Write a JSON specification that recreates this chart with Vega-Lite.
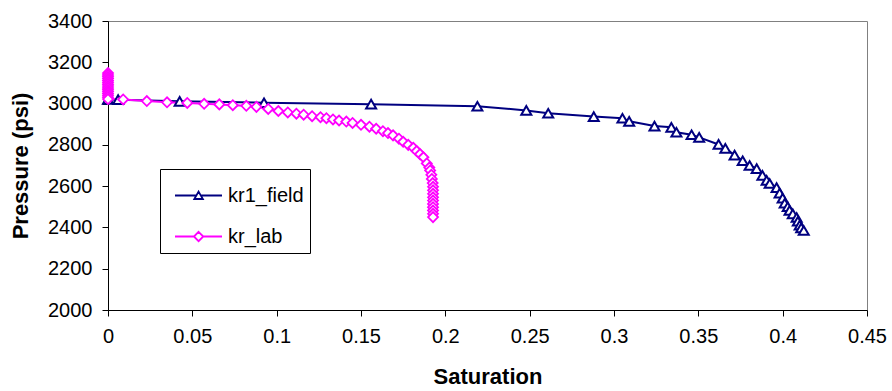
{
  "$schema": "https://vega.github.io/schema/vega-lite/v6.json",
  "width": 759,
  "height": 289,
  "autosize": {"type": "none"},
  "padding": {"left": 108, "top": 21, "right": 25, "bottom": 81},
  "background": "white",
  "config": {
    "font": "Liberation Sans",
    "view": {"stroke": "#808080", "strokeWidth": 1},
    "axis": {
      "grid": false,
      "domainColor": "black",
      "tickColor": "black",
      "labelColor": "black",
      "titleColor": "black",
      "labelFont": "Liberation Sans",
      "titleFont": "Liberation Sans",
      "labelFontSize": 20,
      "titleFontSize": 22,
      "titleFontWeight": "bold",
      "tickSize": 6,
      "labelFlush": false,
      "labelOverlap": false
    }
  },
  "data": {
    "values": [
      {"series": "kr1_field", "s": 0, "p": 3020, "ord": 1},
      {"series": "kr1_field", "s": 0.006, "p": 3019, "ord": 2},
      {"series": "kr1_field", "s": 0.0425, "p": 3011, "ord": 3},
      {"series": "kr1_field", "s": 0.0925, "p": 3004, "ord": 4},
      {"series": "kr1_field", "s": 0.156, "p": 2997, "ord": 5},
      {"series": "kr1_field", "s": 0.219, "p": 2987, "ord": 6},
      {"series": "kr1_field", "s": 0.248, "p": 2967, "ord": 7},
      {"series": "kr1_field", "s": 0.261, "p": 2953, "ord": 8},
      {"series": "kr1_field", "s": 0.288, "p": 2937, "ord": 9},
      {"series": "kr1_field", "s": 0.305, "p": 2929, "ord": 10},
      {"series": "kr1_field", "s": 0.309, "p": 2914, "ord": 11},
      {"series": "kr1_field", "s": 0.324, "p": 2891, "ord": 12},
      {"series": "kr1_field", "s": 0.334, "p": 2885, "ord": 13},
      {"series": "kr1_field", "s": 0.337, "p": 2861, "ord": 14},
      {"series": "kr1_field", "s": 0.346, "p": 2849, "ord": 15},
      {"series": "kr1_field", "s": 0.3505, "p": 2836, "ord": 16},
      {"series": "kr1_field", "s": 0.362, "p": 2802, "ord": 17},
      {"series": "kr1_field", "s": 0.366, "p": 2783, "ord": 18},
      {"series": "kr1_field", "s": 0.3715, "p": 2750, "ord": 19},
      {"series": "kr1_field", "s": 0.3763, "p": 2723, "ord": 20},
      {"series": "kr1_field", "s": 0.3804, "p": 2700, "ord": 21},
      {"series": "kr1_field", "s": 0.3846, "p": 2685, "ord": 22},
      {"series": "kr1_field", "s": 0.388, "p": 2652, "ord": 23},
      {"series": "kr1_field", "s": 0.3905, "p": 2628, "ord": 24},
      {"series": "kr1_field", "s": 0.3923, "p": 2613, "ord": 25},
      {"series": "kr1_field", "s": 0.3964, "p": 2593, "ord": 26},
      {"series": "kr1_field", "s": 0.3982, "p": 2566, "ord": 27},
      {"series": "kr1_field", "s": 0.4, "p": 2542, "ord": 28},
      {"series": "kr1_field", "s": 0.4012, "p": 2517, "ord": 29},
      {"series": "kr1_field", "s": 0.403, "p": 2500, "ord": 30},
      {"series": "kr1_field", "s": 0.4041, "p": 2483, "ord": 31},
      {"series": "kr1_field", "s": 0.406, "p": 2466, "ord": 32},
      {"series": "kr1_field", "s": 0.4083, "p": 2448, "ord": 33},
      {"series": "kr1_field", "s": 0.409, "p": 2430, "ord": 34},
      {"series": "kr1_field", "s": 0.4101, "p": 2411, "ord": 35},
      {"series": "kr1_field", "s": 0.411, "p": 2398, "ord": 36},
      {"series": "kr1_field", "s": 0.4125, "p": 2385, "ord": 37},
      {"series": "kr_lab", "s": 0, "p": 3148, "ord": 1},
      {"series": "kr_lab", "s": 0, "p": 3139, "ord": 2},
      {"series": "kr_lab", "s": 0, "p": 3130, "ord": 3},
      {"series": "kr_lab", "s": 0, "p": 3121, "ord": 4},
      {"series": "kr_lab", "s": 0, "p": 3112, "ord": 5},
      {"series": "kr_lab", "s": 0, "p": 3103, "ord": 6},
      {"series": "kr_lab", "s": 0, "p": 3094, "ord": 7},
      {"series": "kr_lab", "s": 0, "p": 3085, "ord": 8},
      {"series": "kr_lab", "s": 0, "p": 3076, "ord": 9},
      {"series": "kr_lab", "s": 0, "p": 3067, "ord": 10},
      {"series": "kr_lab", "s": 0, "p": 3058, "ord": 11},
      {"series": "kr_lab", "s": 0, "p": 3049, "ord": 12},
      {"series": "kr_lab", "s": 0, "p": 3040, "ord": 13},
      {"series": "kr_lab", "s": 0, "p": 3031, "ord": 14},
      {"series": "kr_lab", "s": 0, "p": 3022, "ord": 15},
      {"series": "kr_lab", "s": 0.009, "p": 3020, "ord": 16},
      {"series": "kr_lab", "s": 0.023, "p": 3012, "ord": 17},
      {"series": "kr_lab", "s": 0.035, "p": 3006, "ord": 18},
      {"series": "kr_lab", "s": 0.047, "p": 3003, "ord": 19},
      {"series": "kr_lab", "s": 0.057, "p": 2999, "ord": 20},
      {"series": "kr_lab", "s": 0.066, "p": 2996, "ord": 21},
      {"series": "kr_lab", "s": 0.074, "p": 2992, "ord": 22},
      {"series": "kr_lab", "s": 0.082, "p": 2989, "ord": 23},
      {"series": "kr_lab", "s": 0.088, "p": 2984, "ord": 24},
      {"series": "kr_lab", "s": 0.095, "p": 2974, "ord": 25},
      {"series": "kr_lab", "s": 0.101, "p": 2964, "ord": 26},
      {"series": "kr_lab", "s": 0.1066, "p": 2957, "ord": 27},
      {"series": "kr_lab", "s": 0.1117, "p": 2951, "ord": 28},
      {"series": "kr_lab", "s": 0.116, "p": 2946, "ord": 29},
      {"series": "kr_lab", "s": 0.121, "p": 2939, "ord": 30},
      {"series": "kr_lab", "s": 0.126, "p": 2934, "ord": 31},
      {"series": "kr_lab", "s": 0.1295, "p": 2929, "ord": 32},
      {"series": "kr_lab", "s": 0.1334, "p": 2923, "ord": 33},
      {"series": "kr_lab", "s": 0.137, "p": 2918, "ord": 34},
      {"series": "kr_lab", "s": 0.1413, "p": 2913, "ord": 35},
      {"series": "kr_lab", "s": 0.145, "p": 2906, "ord": 36},
      {"series": "kr_lab", "s": 0.15, "p": 2897, "ord": 37},
      {"series": "kr_lab", "s": 0.155, "p": 2888, "ord": 38},
      {"series": "kr_lab", "s": 0.159, "p": 2878, "ord": 39},
      {"series": "kr_lab", "s": 0.163, "p": 2866, "ord": 40},
      {"series": "kr_lab", "s": 0.166, "p": 2857, "ord": 41},
      {"series": "kr_lab", "s": 0.169, "p": 2846, "ord": 42},
      {"series": "kr_lab", "s": 0.1725, "p": 2830, "ord": 43},
      {"series": "kr_lab", "s": 0.175, "p": 2815, "ord": 44},
      {"series": "kr_lab", "s": 0.178, "p": 2800, "ord": 45},
      {"series": "kr_lab", "s": 0.181, "p": 2786, "ord": 46},
      {"series": "kr_lab", "s": 0.183, "p": 2770, "ord": 47},
      {"series": "kr_lab", "s": 0.185, "p": 2755, "ord": 48},
      {"series": "kr_lab", "s": 0.187, "p": 2740, "ord": 49},
      {"series": "kr_lab", "s": 0.189, "p": 2710, "ord": 50},
      {"series": "kr_lab", "s": 0.1905, "p": 2690, "ord": 51},
      {"series": "kr_lab", "s": 0.191, "p": 2676, "ord": 52},
      {"series": "kr_lab", "s": 0.1917, "p": 2655, "ord": 53},
      {"series": "kr_lab", "s": 0.192, "p": 2635, "ord": 54},
      {"series": "kr_lab", "s": 0.1925, "p": 2615, "ord": 55},
      {"series": "kr_lab", "s": 0.1927, "p": 2597, "ord": 56},
      {"series": "kr_lab", "s": 0.1927, "p": 2580, "ord": 57},
      {"series": "kr_lab", "s": 0.1927, "p": 2563, "ord": 58},
      {"series": "kr_lab", "s": 0.1927, "p": 2546, "ord": 59},
      {"series": "kr_lab", "s": 0.1927, "p": 2530, "ord": 60},
      {"series": "kr_lab", "s": 0.1927, "p": 2514, "ord": 61},
      {"series": "kr_lab", "s": 0.1927, "p": 2498, "ord": 62},
      {"series": "kr_lab", "s": 0.1927, "p": 2482, "ord": 63},
      {"series": "kr_lab", "s": 0.1927, "p": 2466, "ord": 64},
      {"series": "kr_lab", "s": 0.1927, "p": 2450, "ord": 65}
    ]
  },
  "encoding": {
    "x": {
      "field": "s", "type": "quantitative", "title": "Saturation",
      "scale": {"domain": [0, 0.45], "nice": false},
      "axis": {"values": [0, 0.05, 0.1, 0.15, 0.2, 0.25, 0.3, 0.35, 0.4, 0.45], "format": "~g", "labelPadding": 10, "titlePadding": 20}
    },
    "y": {
      "field": "p", "type": "quantitative", "title": "Pressure (psi)",
      "scale": {"domain": [2000, 3400], "nice": false, "zero": false},
      "axis": {"values": [2000, 2200, 2400, 2600, 2800, 3000, 3200, 3400], "format": "d", "labelPadding": 10, "titlePadding": 15}
    }
  },
  "layer": [
    {
      "mark": {"type": "line", "strokeWidth": 2},
      "encoding": {
        "order": {"field": "ord", "type": "quantitative"},
        "color": {
          "field": "series", "type": "nominal",
          "scale": {"domain": ["kr1_field", "kr_lab"], "range": ["#000080", "#FF00FF"]},
          "legend": {
            "title": null,
            "orient": "none", "legendX": 52, "legendY": 148,
            "strokeColor": "black", "fillColor": "white", "padding": 6,
            "symbolSize": 1521, "symbolStrokeWidth": 1.8, "symbolFillColor": "white",
            "labelFontSize": 20, "labelFont": "Liberation Sans", "labelColor": "black",
            "labelOffset": 21, "rowPadding": 10,
            "encode": {
              "symbols": {
                "update": {
                  "shape": {"signal": "datum.value === 'kr1_field' ? 'M-0.59,0H0.52M0.72,0H1.82M0.62,-0.2L0.84,0.18L0.4,0.18Z' : 'M-0.59,0H0.38M0.86,0H1.82M0.62,-0.24L0.86,0L0.62,0.24L0.38,0Z'"},
                  "fill": {"value": "white"},
                  "strokeWidth": {"value": 1.8},
                  "opacity": {"value": 1}
                }
              }
            }
          }
        }
      }
    },
    {
      "transform": [{"filter": "datum.series === 'kr1_field'"}],
      "mark": {"type": "point", "shape": "triangle-up", "size": 100, "filled": false, "fill": "white", "stroke": "#000080", "strokeWidth": 2, "opacity": 1}
    },
    {
      "transform": [{"filter": "datum.series === 'kr_lab'"}],
      "mark": {"type": "point", "shape": "diamond", "size": 100, "filled": false, "fill": "white", "stroke": "#FF00FF", "strokeWidth": 1.8, "opacity": 1}
    }
  ]
}
